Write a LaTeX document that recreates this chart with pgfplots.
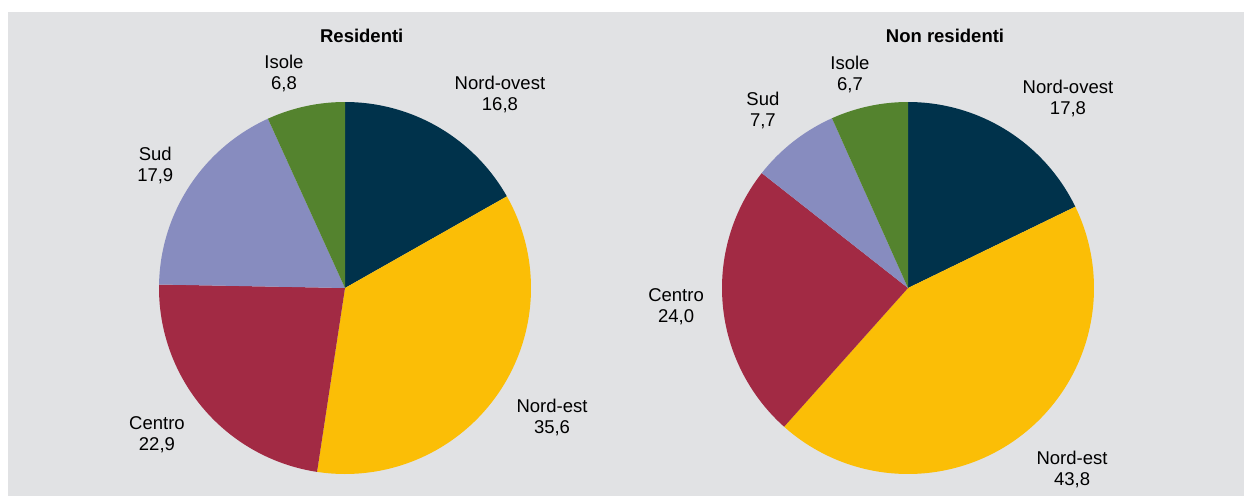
\documentclass[border=0pt]{standalone}
\usepackage{pgfplots}
\pgfplotsset{compat=1.18}
\usepackage{pgfplotstable}
\usepackage{fontspec}
\setmainfont{Liberation Sans}
\definecolor{bg}{HTML}{E1E2E4}
\definecolor{cNO}{HTML}{00324B}
\definecolor{cNE}{HTML}{FBBE06}
\definecolor{cCE}{HTML}{A22A44}
\definecolor{cSU}{HTML}{878CBF}
\definecolor{cIS}{HTML}{54832E}

\pgfplotstableread{
region value
Nord-ovest 16.8
Nord-est 35.6
Centro 22.9
Sud 17.9
Isole 6.8
}\residenti
\pgfplotstableread{
region value
Nord-ovest 17.8
Nord-est 43.8
Centro 24.0
Sud 7.7
Isole 6.7
}\nonresidenti

\gdef\cum{0}
% #1 table, #2 row, #3 colour
\newcommand\slice[3]{%
  \pgfplotstablegetelem{#2}{value}\of{#1}%
  \let\val\pgfplotsretval
  \pgfmathsetmacro\angA{90-3.6*\cum}%
  \pgfmathsetmacro\angB{90-3.6*(\cum+\val)}%
  \pgfmathsetmacro\newcum{\cum+\val}\global\let\cum\newcum
  \edef\tmp{\noexpand\addplot[fill=#3,draw=none,domain=\angB:\angA,samples=120]
    ({cos(x)},{sin(x)}) -- (axis cs:0,0) -- cycle;}\tmp}
\newcommand\pie[1]{%
  \gdef\cum{0}%
  \slice{#1}{0}{cNO}\slice{#1}{1}{cNE}\slice{#1}{2}{cCE}\slice{#1}{3}{cSU}\slice{#1}{4}{cIS}}

\pgfplotsset{pieaxis/.style={hide axis, scale only axis, width=372bp, height=372bp,
  xmin=-1, xmax=1, ymin=-1, ymax=1, clip=false, anchor=center},
  every axis/.append style={font=\fontsize{18.5bp}{21bp}\selectfont}}
\tikzset{lab/.style={align=center, inner sep=0pt, font=\fontsize{18.5bp}{21bp}\selectfont}}

\begin{document}
\begin{tikzpicture}
\fill[white] (0,0) rectangle (1244bp,-496bp);
\fill[bg] (8bp,-12bp) rectangle (1244bp,-496bp);
\begin{axis}[pieaxis, at={(345bp,-288bp)}]
  \pie{\residenti}
  \node[lab] at (axis cs:0.09,1.355) {\textbf{Residenti}};
  \node[lab] at (axis cs:0.833,1.043) {Nord-ovest\\16,8};
  \node[lab] at (axis cs:1.113,-0.694) {Nord-est\\35,6};
  \node[lab] at (axis cs:-1.011,-0.79) {Centro\\22,9};
  \node[lab] at (axis cs:-1.02,0.661) {Sud\\17,9};
  \node[lab] at (axis cs:-0.328,1.156) {Isole\\6,8};
\end{axis}
\begin{axis}[pieaxis, at={(908bp,-288bp)}]
  \pie{\nonresidenti}
  \node[lab] at (axis cs:0.199,1.355) {\textbf{Non residenti}};
  \node[lab] at (axis cs:0.86,1.02) {Nord-ovest\\17,8};
  \node[lab] at (axis cs:0.882,-0.978) {Nord-est\\43,8};
  \node[lab] at (axis cs:-1.247,-0.102) {Centro\\24,0};
  \node[lab] at (axis cs:-0.78,0.952) {Sud\\7,7};
  \node[lab] at (axis cs:-0.312,1.15) {Isole\\6,7};
\end{axis}
\end{tikzpicture}
\end{document}
